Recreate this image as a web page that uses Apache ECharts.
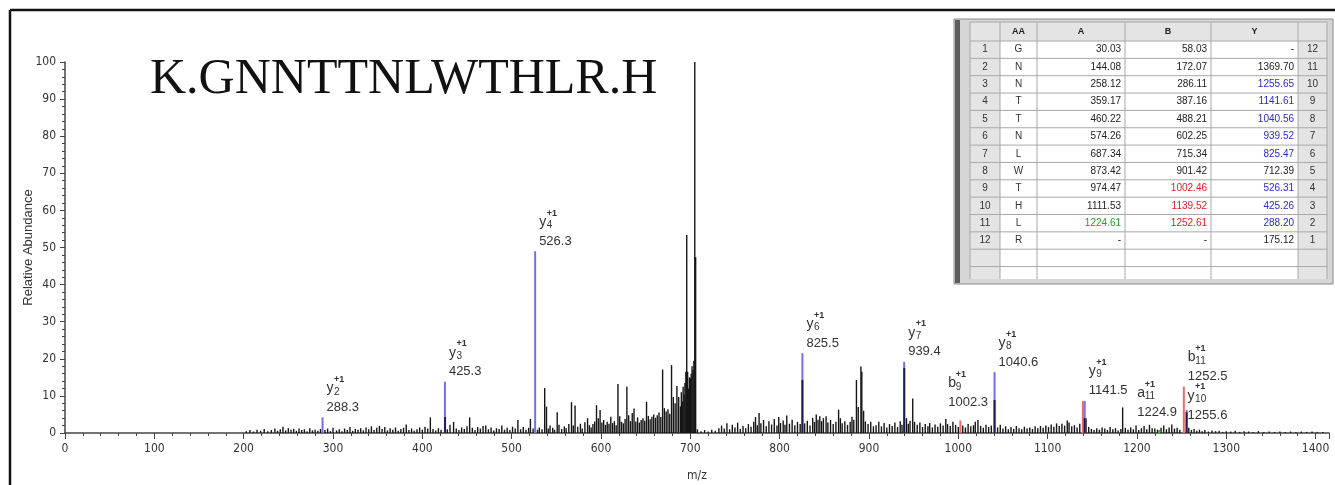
<!DOCTYPE html>
<html>
<head>
<meta charset="utf-8">
<script src="https://cdn.jsdelivr.net/npm/echarts@6/dist/echarts.min.js"></script>
<style>
  html, body { margin: 0; background: #fff; }
  #main { width: 1335px; height: 485px; }
</style>
</head>
<body>
<div id="main"></div>
<script>
// peptide and theoretical fragment table
const peptide = 'K.GNNTTNLWTHLR.H';
const tableHead = ['', 'AA', 'A', 'B', 'Y', ''];
const tableIdx = [1, 2, 3, 4, 5, 6, 7, 8, 9, 10, 11, 12];
const tableAA = ['G', 'N', 'N', 'T', 'T', 'N', 'L', 'W', 'T', 'H', 'L', 'R'];
const tableA = ['30.03', '144.08', '258.12', '359.17', '460.22', '574.26', '687.34', '873.42', '974.47', '1111.53', '1224.61', '-'];
const tableB = ['58.03', '172.07', '286.11', '387.16', '488.21', '602.25', '715.34', '901.42', '1002.46', '1139.52', '1252.61', '-'];
const tableY = ['-', '1369.70', '1255.65', '1141.61', '1040.56', '939.52', '825.47', '712.39', '526.31', '425.26', '288.20', '175.12'];
const tableYIdx = [12, 11, 10, 9, 8, 7, 6, 5, 4, 3, 2, 1];
// rows whose fragment was observed
const hitA = [11];
const hitB = [9, 10, 11];
const hitY = [3, 4, 5, 6, 7, 9, 10, 11];

// matched fragment ions [m/z, relative abundance]
const ionMz = [288.3, 425.3, 526.3, 825.5, 939.4, 1002.3, 1040.6, 1139.5, 1141.5, 1224.9, 1252.5, 1255.6];
const ionInt = [4.2, 13.8, 49.0, 21.5, 19.2, 3.4, 16.4, 8.6, 8.6, 0.8, 12.5, 6.2];
const ionType = ['y', 'y', 'y', 'y', 'y', 'b', 'y', 'b', 'y', 'a', 'b', 'y'];
const ionNo = [2, 3, 4, 6, 7, 9, 8, 10, 9, 11, 11, 10];
const ionText = ['288.3', '425.3', '526.3', '825.5', '939.4', '1002.3', '1040.6', '', '1141.5', '1224.9', '1252.5', '1255.6'];

// unmatched peaks sitting under the coloured ions
const underIons = [[425.5, 4.3], [825.5, 14.3], [939.5, 17.5], [1040.6, 8.9], [1141.5, 4.0], [1255.6, 5.6]];

// the rest of the spectrum
const lowMassPeaks = [
  [203, 0.5], [207, 0.8], [211, 0.4], [215, 0.9], [219, 0.6], [223, 1.1], [227, 0.5], [231, 0.8], [235, 1.2], [238, 0.6],
  [241, 1.0], [244, 1.7], [247, 0.7], [250, 1.3], [253, 0.9], [256, 1.1], [259, 0.6], [262, 1.2], [265, 0.8], [268, 1.0],
  [271, 0.5], [274, 1.3], [277, 0.7], [280, 0.9], [283, 0.6], [286, 1.1], [291, 0.8], [294, 1.2], [297, 0.5], [300, 1.4],
  [304, 0.7], [307, 1.0], [310, 0.5], [313, 1.2], [316, 0.8], [319, 1.6], [322, 0.6], [325, 1.1], [328, 0.9], [331, 1.3],
  [334, 0.7], [337, 1.5], [340, 1.0], [343, 1.8], [346, 0.8], [349, 1.4], [352, 1.9], [355, 1.1], [358, 1.6], [361, 0.7],
  [364, 1.3], [367, 0.9], [370, 1.5], [373, 0.6], [376, 1.1], [379, 1.4], [382, 2.3], [385, 0.8], [388, 1.2], [391, 0.6],
  [394, 1.0], [397, 1.5], [400, 0.9], [403, 1.7], [406, 1.2], [409, 4.2], [412, 1.1], [415, 0.7], [418, 1.3], [421, 0.9],
  [428, 1.0], [431, 2.2], [435, 3.0], [438, 1.2], [441, 0.8], [444, 1.5], [447, 1.1], [450, 1.8], [453, 4.2], [456, 1.4],
  [459, 0.8], [462, 1.6], [465, 1.2], [468, 1.9], [471, 2.0], [474, 1.0], [477, 1.5], [480, 0.7], [483, 1.3], [486, 1.1],
  [489, 2.0], [492, 0.9], [495, 1.4], [498, 0.8], [501, 1.7], [504, 1.2], [507, 3.5], [510, 1.0], [513, 1.6], [516, 0.9],
  [519, 1.4], [521, 3.8], [524, 1.2]
];
const midMassPeaks = [
  [529, 0.9], [531, 1.5], [534, 1.0], [537, 12.1], [539, 7.1], [541, 1.2], [543, 2.0], [546, 1.4], [548, 0.9], [551, 5.6],
  [553, 2.2], [556, 1.1], [559, 1.8], [561, 1.3], [564, 2.4], [567, 8.3], [569, 2.0], [571, 7.4], [574, 1.7], [577, 2.5],
  [579, 1.2], [582, 2.9], [585, 4.0], [587, 2.1], [589, 1.5]
];
const clusterPeaks = [
  [591, 2.4], [593, 3.1], [595, 7.5], [597, 4.0], [599, 6.2], [601, 2.8], [603, 3.5], [605, 2.2], [607, 3.0], [609, 2.5],
  [611, 4.4], [613, 2.7], [615, 3.2], [617, 2.1], [619, 13.2], [621, 4.5], [623, 3.0], [625, 2.6], [627, 3.8], [629, 12.5],
  [631, 4.8], [633, 3.2], [635, 5.4], [637, 6.6], [639, 3.1], [641, 4.2], [643, 2.8], [645, 3.5], [647, 4.0], [649, 3.3],
  [651, 8.4], [653, 4.6], [655, 3.7], [657, 4.4], [659, 5.0], [661, 4.1], [663, 4.8], [665, 5.5], [667, 4.3], [669, 17.1],
  [671, 6.7], [673, 5.8], [675, 6.4], [677, 5.2], [679, 18.3], [681, 9.7], [683, 8.0], [685, 12.7], [687, 9.7], [689, 7.2],
  [690, 11.0], [691, 8.5], [692, 12.5], [693, 10.4], [694, 13.5], [695, 16.5], [696, 53.4], [697, 16.5], [698, 12.0],
  [699, 15.0], [700, 14.8], [701, 16.0], [702, 18.0], [703, 17.0], [704, 19.5], [705, 100], [706, 47.4]
];
const highMassPeaks = [
  [708, 1.0], [712, 0.5], [716, 0.8], [720, 0.4], [724, 0.9], [728, 0.6], [732, 1.3], [735, 2.0], [738, 1.2], [741, 2.6],
  [744, 1.0], [747, 2.2], [750, 1.5], [753, 2.8], [756, 1.1], [759, 1.9], [762, 1.3], [765, 2.4], [768, 1.7], [771, 3.0],
  [773, 4.3], [775, 2.1], [777, 5.4], [779, 2.6], [782, 3.5], [785, 1.8], [788, 3.2], [791, 2.3], [794, 3.8], [797, 2.0],
  [799, 4.3], [801, 2.7], [804, 3.4], [806, 2.2], [808, 4.7], [811, 2.5], [814, 3.6], [817, 2.1], [820, 3.0], [823, 2.4],
  [828, 2.6], [831, 3.3], [834, 2.0], [837, 4.1], [839, 3.0], [841, 5.0], [843, 3.6], [845, 4.5], [847, 3.2], [849, 4.0],
  [852, 4.5], [854, 2.8], [857, 3.5], [860, 2.4], [863, 3.0], [866, 6.3], [868, 4.0], [870, 2.6], [873, 3.2], [876, 2.2],
  [879, 3.0], [881, 4.4], [883, 3.6], [886, 14.3], [888, 7.0], [891, 17.9], [892, 16.5], [894, 6.0], [896, 3.1], [899, 2.4],
  [902, 3.0], [905, 1.8], [908, 2.1], [911, 3.0], [914, 1.8], [917, 2.7], [920, 1.5], [923, 2.4], [926, 1.9], [929, 2.8],
  [932, 1.6], [935, 3.2], [937, 2.2], [942, 4.0], [944, 2.5], [946, 3.3], [949, 9.3], [951, 3.0], [954, 2.2], [957, 2.8],
  [960, 1.6], [963, 2.4], [966, 1.8], [968, 2.7], [971, 1.5], [974, 2.3], [977, 1.7], [980, 2.6], [983, 2.0], [986, 3.8],
  [988, 2.4], [991, 1.9], [994, 3.0], [997, 2.2], [1000, 1.6]
];
const tailPeaks = [
  [1005, 2.0], [1008, 1.5], [1011, 2.4], [1014, 1.8], [1017, 2.1], [1019, 3.0], [1022, 3.5], [1025, 1.9], [1028, 1.4], [1031, 2.2],
  [1034, 1.6], [1037, 2.0], [1044, 1.5], [1047, 2.2], [1050, 1.2], [1053, 1.8], [1056, 1.0], [1059, 1.6], [1062, 1.1], [1065, 1.9],
  [1068, 1.3], [1071, 1.0], [1074, 1.7], [1077, 1.2], [1080, 1.5], [1083, 1.1], [1086, 1.8], [1089, 1.3], [1092, 1.9], [1095, 1.4],
  [1098, 2.0], [1101, 1.6], [1104, 2.3], [1107, 1.7], [1110, 2.6], [1113, 1.9], [1116, 2.5], [1119, 2.0], [1122, 3.4], [1124, 2.8],
  [1127, 1.8], [1130, 2.1], [1133, 1.5], [1136, 2.5], [1143, 4.0], [1146, 1.6], [1149, 1.1], [1152, 0.8], [1155, 1.3], [1158, 0.9],
  [1161, 1.5], [1164, 1.2], [1167, 0.8], [1170, 1.6], [1173, 1.0], [1176, 1.3], [1179, 0.7], [1182, 1.1], [1184, 6.9], [1187, 1.4],
  [1190, 0.9], [1193, 1.5], [1196, 1.0], [1199, 2.0], [1202, 0.8], [1205, 1.3], [1208, 1.9], [1211, 1.0], [1214, 2.2], [1217, 1.3],
  [1220, 1.2], [1223, 0.9], [1227, 1.4], [1230, 2.0], [1233, 1.0], [1236, 1.5], [1239, 2.3], [1242, 1.2], [1245, 1.4], [1248, 0.9],
  [1258, 1.4], [1261, 0.8], [1264, 1.1], [1267, 0.6], [1270, 0.9], [1273, 0.5], [1276, 0.8], [1280, 0.4], [1284, 0.7], [1288, 0.5],
  [1292, 0.6], [1296, 0.3], [1300, 0.5], [1305, 0.4], [1310, 0.6], [1315, 0.3], [1320, 0.5], [1325, 0.4], [1330, 0.3], [1336, 0.5],
  [1342, 0.3], [1348, 0.4], [1354, 0.3], [1360, 0.4], [1366, 0.3], [1372, 0.4], [1378, 0.3], [1384, 0.4], [1390, 0.3], [1396, 0.4],
  [1402, 0.3], [1408, 0.3]
];

const sans = '"Liberation Sans", Arial, sans-serif';
const narrow = '"Liberation Sans Narrow", "DejaVu Sans Condensed", "Liberation Sans", sans-serif';
const ionColor = {y: '#7070ee', b: '#ee6a6a', a: '#4cb050'};
// label nudges for the crowded ones: [dx, dy] from the peak top to the m/z text
const labelShift = {5: [-12, -18], 8: [4, -11], 9: [-22, -18], 11: [1, 5]};

function stick(color, width) {
    return function (params, api) {
        const p0 = api.coord([api.value(0), 0]);
        const p1 = api.coord([api.value(0), api.value(1)]);
        return {
            type: 'line',
            shape: {x1: p0[0], y1: p0[1], x2: p1[0], y2: p1[1]},
            style: {stroke: color, lineWidth: width}
        };
    };
}

function txt(x, y, text, font) {
    return {
        type: 'text', x: x, y: y,
        style: {text: text, font: font, fill: '#333', align: 'left', verticalAlign: 'middle'}
    };
}

function ionItem(params, api) {
    const i = params.dataIndex;
    const p0 = api.coord([api.value(0), 0]);
    const p1 = api.coord([api.value(0), api.value(1)]);
    const children = [{
        type: 'line',
        shape: {x1: p0[0], y1: p0[1], x2: p1[0], y2: p1[1]},
        style: {stroke: ionColor[ionType[i]], lineWidth: 2}
    }];
    if (ionText[i]) {
        const s = labelShift[i] || [4, -10];
        const lx = p1[0] + s[0];
        const ny = p1[1] + s[1];
        children.push(txt(lx, ny, ionText[i], '13px ' + sans));
        children.push(txt(lx, ny - 19, ionType[i], '14px ' + sans));
        children.push(txt(lx + 7.5, ny - 15.5, String(ionNo[i]), '10px ' + sans));
        children.push(txt(lx + 7.5, ny - 28, '+1', 'bold 9px ' + sans));
    }
    return {type: 'group', children: children};
}

function buildTable() {
    const colX = [970, 1000, 1037, 1125, 1211, 1298, 1327];
    const headY = 22, headH = 19, rowH = 17.35, bottom = 279;
    const els = [
        {type: 'rect', shape: {x: 954, y: 19, width: 379, height: 265}, style: {fill: '#d6d6d6', stroke: '#8a8a8a', lineWidth: 1}},
        {type: 'rect', shape: {x: 955, y: 20, width: 5, height: 263}, style: {fill: '#5c5c5c'}},
        {type: 'rect', shape: {x: colX[0], y: headY, width: colX[6] - colX[0], height: bottom - headY}, style: {fill: '#fff'}}
    ];
    // grey header row and side columns
    els.push({type: 'rect', shape: {x: colX[0], y: headY, width: colX[6] - colX[0], height: headH}, style: {fill: '#e4e4e4'}});
    els.push({type: 'rect', shape: {x: colX[0], y: headY, width: colX[1] - colX[0], height: bottom - headY}, style: {fill: '#e4e4e4'}});
    els.push({type: 'rect', shape: {x: colX[5], y: headY, width: colX[6] - colX[5], height: bottom - headY}, style: {fill: '#e4e4e4'}});
    // grid lines
    for (let r = 0; r <= 14; r++) {
        const y = r === 0 ? headY : headY + headH + (r - 1) * rowH;
        if (y > bottom) break;
        els.push({type: 'line', shape: {x1: colX[0], y1: y, x2: colX[6], y2: y}, style: {stroke: '#a8a8a8', lineWidth: 1}});
    }
    colX.forEach(function (x) {
        els.push({type: 'line', shape: {x1: x, y1: headY, x2: x, y2: bottom}, style: {stroke: '#a8a8a8', lineWidth: 1}});
    });
    // header
    tableHead.forEach(function (h, c) {
        els.push({
            type: 'text', x: (colX[c] + colX[c + 1]) / 2, y: headY + headH / 2,
            style: {text: h, font: 'bold 9px ' + sans, fill: '#222', align: 'center', verticalAlign: 'middle'}
        });
    });
    const cell = function (c, r, text, color, align) {
        const y = headY + headH + r * rowH + rowH / 2;
        const x = align === 'right' ? colX[c + 1] - 4 : (colX[c] + colX[c + 1]) / 2;
        els.push({type: 'text', x: x, y: y, style: {text: text, font: '10px ' + sans, fill: color, align: align, verticalAlign: 'middle'}});
    };
    for (let r = 0; r < tableIdx.length; r++) {
        const row = tableIdx[r];
        cell(0, r, String(row), '#333', 'center');
        cell(1, r, tableAA[r], '#333', 'center');
        cell(2, r, tableA[r], hitA.indexOf(row) >= 0 ? '#22a022' : '#222', 'right');
        cell(3, r, tableB[r], hitB.indexOf(row) >= 0 ? '#e02020' : '#222', 'right');
        cell(4, r, tableY[r], hitY.indexOf(row) >= 0 ? '#2a2ad0' : '#222', 'right');
        cell(5, r, String(tableYIdx[r]), '#333', 'center');
    }
    return els;
}

let myChart = echarts.init(document.getElementById('main'));

let option = {
    animation: false,
    grid: {left: 65, right: 6, top: 62, bottom: 52, containLabel: false, outerBoundsMode: 'none'},
    xAxis: {
        type: 'value', min: 0, max: 1415, interval: 100,
        axisLine: {onZero: false, lineStyle: {color: '#444', width: 1.5}},
        axisTick: {length: 6, lineStyle: {color: '#444'}},
        minorTick: {show: true, splitNumber: 5, length: 3, lineStyle: {color: '#444'}},
        splitLine: {show: false},
        axisLabel: {
            color: '#333', fontSize: 12, margin: 10, fontFamily: narrow,
            formatter: function (v) { return v % 100 === 0 ? String(v) : ''; }
        },
        name: 'm/z', nameLocation: 'middle', nameGap: 37,
        nameTextStyle: {color: '#333', fontSize: 12, fontFamily: narrow}
    },
    yAxis: {
        type: 'value', min: 0, max: 100, interval: 10,
        axisLine: {show: true, lineStyle: {color: '#444', width: 1.5}},
        axisTick: {show: true, length: 5, lineStyle: {color: '#444'}},
        minorTick: {show: true, splitNumber: 5, length: 3, lineStyle: {color: '#444'}},
        splitLine: {show: false},
        axisLabel: {color: '#333', fontSize: 12, margin: 9, fontFamily: narrow},
        name: 'Relative Abundance', nameLocation: 'middle', nameGap: 30, nameMoveOverlap: false,
        nameTextStyle: {color: '#333', fontSize: 13, fontFamily: sans}
    },
    series: [
        {type: 'custom', renderItem: stick('#151515', 1.4), data: lowMassPeaks, z: 2, silent: true},
        {type: 'custom', renderItem: stick('#151515', 1.4), data: midMassPeaks, z: 2, silent: true},
        {type: 'custom', renderItem: stick('#151515', 1.4), data: clusterPeaks, z: 2, silent: true},
        {type: 'custom', renderItem: stick('#151515', 1.4), data: highMassPeaks, z: 2, silent: true},
        {type: 'custom', renderItem: stick('#151515', 1.4), data: tailPeaks, z: 2, silent: true},
        {type: 'custom', renderItem: ionItem, data: ionMz.map(function (m, i) { return [m, ionInt[i]]; }), z: 3, silent: true},
        {type: 'custom', renderItem: stick('#1c1c55', 2), data: underIons, z: 4, silent: true}
    ],
    graphic: [
        {type: 'line', shape: {x1: 10, y1: 10, x2: 1335, y2: 10}, style: {stroke: '#111', lineWidth: 2.5}},
        {type: 'line', shape: {x1: 10, y1: 10, x2: 10, y2: 485}, style: {stroke: '#111', lineWidth: 2.5}},
        {type: 'text', x: 150, y: 80, style: {text: peptide, font: '50px "Liberation Serif", "Times New Roman", serif', fill: '#111', align: 'left', verticalAlign: 'middle'}},
        {type: 'group', children: buildTable()}
    ]
};
myChart.setOption(option);
</script>
</body>
</html>
